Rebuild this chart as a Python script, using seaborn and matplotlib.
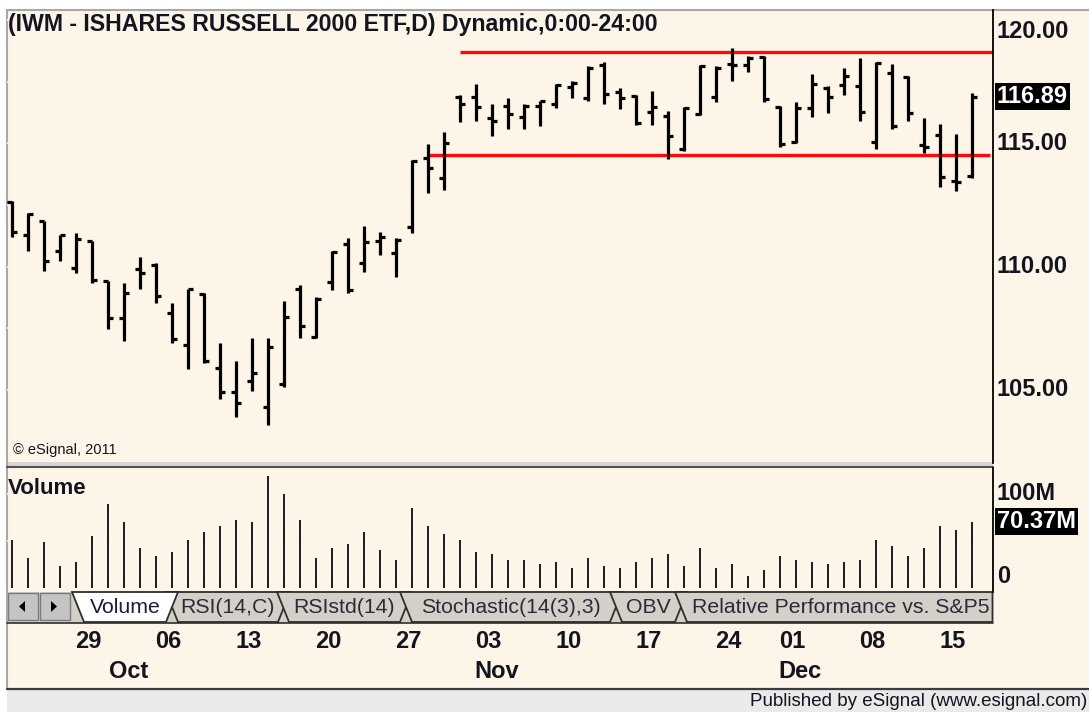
import matplotlib
matplotlib.use("Agg")
import matplotlib.pyplot as plt
import matplotlib.transforms as mtransforms
from matplotlib.patches import Rectangle, Polygon
import numpy as np
import pandas as pd
import seaborn as sns

# ---- data ----
trading_days = pd.bdate_range("2011-09-22", "2011-12-16").drop(pd.Timestamp("2011-11-24"))

opens = [112.60, 111.30, 111.83, 110.62, 109.95, 111.02, 109.40, 107.92, 109.89, 110.08,
         108.11, 106.81, 108.87, 105.90, 104.93, 105.36, 104.30, 105.25, 109.10, 107.14,
         109.39, 110.92, 110.13, 111.05, 110.54, 111.59, 114.42, 113.59, 116.88, 116.88,
         116.03, 116.50, 116.07, 116.52, 116.58, 117.27, 116.82, 118.17, 117.07, 116.92,
         116.25, 116.11, 114.77, 116.19, 116.86, 118.21, 118.17, 118.48, 116.46, 115.06,
         116.42, 117.23, 117.36, 117.33, 115.06, 117.85, 117.69, 114.93, 115.34, 113.48,
         113.66]
highs = [112.67, 112.16, 111.86, 111.30, 111.38, 111.05, 109.43, 109.35, 110.40, 110.16,
         108.54, 109.11, 108.95, 106.92, 106.19, 107.09, 107.09, 108.62, 109.27, 108.76,
         110.65, 111.16, 111.63, 111.39, 111.16, 114.32, 114.97, 115.44, 116.96, 117.40,
         116.59, 116.84, 116.59, 116.71, 117.40, 117.52, 118.12, 118.28, 117.24, 116.96,
         117.13, 116.32, 116.48, 118.18, 118.12, 118.84, 118.54, 118.52, 116.50, 116.66,
         117.81, 117.33, 118.06, 118.44, 118.30, 118.21, 117.73, 116.03, 115.78, 115.36,
         117.04]
lows = [111.21, 110.62, 109.84, 110.21, 109.73, 109.35, 107.46, 106.98, 109.08, 108.51,
        106.89, 105.84, 106.08, 104.63, 103.90, 104.95, 103.56, 105.11, 107.09, 107.09,
        109.07, 108.94, 109.80, 110.47, 109.57, 111.35, 112.97, 113.12, 115.88, 115.91,
        115.30, 115.58, 115.58, 115.71, 116.44, 116.84, 116.72, 116.59, 116.39, 115.74,
        115.74, 114.36, 114.70, 116.15, 116.66, 117.53, 117.88, 116.66, 114.84, 115.01,
        116.05, 116.22, 116.96, 115.91, 114.77, 115.58, 115.91, 114.61, 113.22, 113.08,
        113.58]
closes = [111.39, 112.12, 110.21, 111.27, 111.11, 109.46, 107.92, 108.92, 109.73, 108.82,
          107.06, 109.08, 106.17, 104.90, 104.49, 105.68, 106.74, 107.95, 107.61, 108.69,
          110.61, 109.06, 111.01, 111.19, 111.09, 114.27, 114.00, 114.99, 116.61, 116.48,
          115.91, 116.17, 116.50, 116.70, 117.36, 117.45, 118.06, 117.00, 116.82, 115.82,
          116.46, 115.30, 116.42, 118.14, 118.06, 118.18, 118.44, 116.80, 114.98, 116.42,
          117.40, 116.86, 117.73, 116.28, 118.25, 115.71, 116.22, 114.86, 113.63, 113.44,
          116.89]
volume_m = [50.8, 32.0, 49.0, 23.5, 27.7, 55.4, 89.6, 70.4, 42.6, 34.1,
            38.4, 51.2, 59.7, 66.1, 72.5, 70.4, 119.4, 100.2, 72.5, 32.0,
            42.6, 46.9, 59.7, 40.5, 29.9, 85.3, 66.1, 57.6, 51.2, 38.4,
            36.2, 29.9, 29.9, 25.6, 27.7, 21.3, 32.0, 23.5, 21.3, 27.7,
            32.0, 36.2, 23.5, 42.6, 21.3, 25.6, 12.8, 19.2, 34.1, 29.9,
            27.7, 25.6, 27.7, 29.9, 51.2, 44.8, 34.1, 42.6, 66.1, 61.8,
            70.37]

resistance, resistance_from = 118.70, "2011-11-01"
support, support_from = 114.53, "2011-10-28"

price_labels = [120, 115, 110, 105]
volume_labels = [100]
last_price = 116.89
last_volume = 70.37

day_ticks = ["2011-09-29", "2011-10-06", "2011-10-13", "2011-10-20", "2011-10-27", "2011-11-03",
             "2011-11-10", "2011-11-17", "2011-11-25", "2011-12-01", "2011-12-08", "2011-12-15"]
day_labels = ["29", "06", "13", "20", "27", "03", "10", "17", "24", "01", "08", "15"]
month_ticks = ["2011-10-03", "2011-11-03", "2011-12-01"]
month_labels = ["Oct", "Nov", "Dec"]

tab_names = ["Volume", "RSI(14,C)", "RSIstd(14)", "Stochastic(14(3),3)", "OBV",
             "Relative Performance vs. S&P500"]

title = "(IWM - ISHARES RUSSELL 2000 ETF,D) Dynamic,0:00-24:00"

# ---- style ----
CREAM = "#FCF5E8"
TAB_GRAY = "#D4D0C8"
sns.set_theme(style="white", rc={"axes.facecolor": CREAM, "figure.facecolor": CREAM})
plt.rcParams["font.family"] = ["Liberation Sans", "DejaVu Sans"]
TXT = "#141420"

W, H = 1089, 712
fig = plt.figure(figsize=(W / 100, H / 100), dpi=100)


def px_rect(x0, y0, x1, y1):
    return [x0 / W, 1 - y1 / H, (x1 - x0) / W, (y1 - y0) / H]


# overlay in pixel coordinates for the window chrome
over = fig.add_axes([0, 0, 1, 1], zorder=0)
over.set_xlim(0, W)
over.set_ylim(H, 0)
over.axis("off")

idx = np.arange(len(trading_days))
xlim = ((7 - 12.2) / 16, (993 - 12.2) / 16)

# ---- price panel ----
ax_p = fig.add_axes(px_rect(7, 10, 993, 463), zorder=2)
ax_p.set_facecolor("none")
ax_p.set_xlim(*xlim)
ax_p.set_ylim(102.04, 120.40)
for lvl in np.arange(105, 120.1, 2.5):
    ax_p.axhline(lvl, color="white", lw=1.2, ls=(0, (0.8, 10.8)), zorder=0)

ax_p.vlines(idx, lows, highs, color="black", lw=2.3, zorder=3)
ax_p.hlines(opens, idx - 0.3, idx, color="black", lw=2.3, zorder=3)
ax_p.hlines(closes, idx, idx + 0.3, color="black", lw=2.3, zorder=3)

ax_p.hlines(resistance, trading_days.get_loc(pd.Timestamp(resistance_from)), xlim[1],
            color="#FF0A0A", lw=2.4, zorder=2)
ax_p.hlines(support, trading_days.get_loc(pd.Timestamp(support_from)), xlim[1] - 0.2,
            color="#FF0A0A", lw=2.4, zorder=2)

ax_p.set_xticks([])
ax_p.set_yticks([])
for side in ["left", "top", "bottom"]:
    ax_p.spines[side].set_visible(False)
ax_p.spines["right"].set_color("black")
ax_p.spines["right"].set_linewidth(1.3)

ax_p.text(1 / 986, 1 - 15 / 453, title, transform=ax_p.transAxes, ha="left", va="center",
          fontsize=16.7, fontweight="bold", color=TXT)
ax_p.text(6 / 986, 13 / 453, "\u00a9 eSignal, 2011", transform=ax_p.transAxes, ha="left",
          va="center", fontsize=10.5, color=TXT)

# right-hand price scale; the top label is kept inside the pane
tr_price = mtransforms.blended_transform_factory(over.transData, ax_p.transData)
for lvl in price_labels:
    ax_p.text(997, lvl, f"{lvl:.2f}", transform=tr_price, ha="left",
              va="top" if lvl == max(price_labels) else "center",
              fontsize=17, fontweight="bold", color=TXT, clip_on=False)
ax_p.text(997, last_price, f"{last_price:.2f}", transform=tr_price, ha="left", va="center",
          fontsize=17, fontweight="bold", color="white", clip_on=False,
          bbox=dict(boxstyle="square,pad=0.08", fc="black", ec="none"))

# ---- volume panel ----
ax_v = fig.add_axes(px_rect(7, 468, 993, 592), zorder=2)
ax_v.set_facecolor("none")
for lvl in [50, 100]:
    ax_v.axhline(lvl, color="white", lw=1.2, ls=(0, (0.8, 10.8)), zorder=0)
sns.barplot(x=idx, y=volume_m, ax=ax_v, native_scale=True, width=0.14, color="#222222",
            linewidth=0, errorbar=None, saturation=1)
ax_v.set_xlim(*xlim)
ax_v.set_ylim(-4.6, 127.6)
ax_v.set_xticks([])
ax_v.set_yticks([])
ax_v.set_xlabel("")
ax_v.set_ylabel("")
for side in ["left", "top", "bottom"]:
    ax_v.spines[side].set_visible(False)
ax_v.spines["right"].set_color("black")
ax_v.spines["right"].set_linewidth(1.3)
ax_v.text(1 / 986, 1 - 20 / 124, "Volume", transform=ax_v.transAxes, ha="left", va="center",
          fontsize=16, fontweight="bold", color=TXT)

tr_vol = mtransforms.blended_transform_factory(over.transData, ax_v.transData)
for lvl in volume_labels:
    ax_v.text(997, lvl, f"{lvl}M", transform=tr_vol, ha="left", va="center",
              fontsize=17, fontweight="bold", color=TXT, clip_on=False)
ax_v.text(997, 0, "0", transform=tr_vol, ha="left", va="bottom",
          fontsize=17, fontweight="bold", color=TXT, clip_on=False)
ax_v.text(997, last_volume, f"{last_volume:.2f}M", transform=tr_vol, ha="left", va="center",
          fontsize=17, fontweight="bold", color="white", clip_on=False,
          bbox=dict(boxstyle="square,pad=0.08", fc="black", ec="none"))

# ---- date axis (below the tab strip) ----
tr_date = mtransforms.blended_transform_factory(ax_p.transData, over.transData)
tr_day = mtransforms.offset_copy(tr_date, fig=fig, x=-3.7, y=0, units="dots")
tr_mon = mtransforms.offset_copy(tr_date, fig=fig, x=4, y=0, units="dots")
for d, lab in zip(day_ticks, day_labels):
    over.text(trading_days.get_loc(pd.Timestamp(d)), 641, lab, transform=tr_day, ha="center",
              va="center", fontsize=17, fontweight="bold", color=TXT)
for d, lab in zip(month_ticks, month_labels):
    over.text(trading_days.get_loc(pd.Timestamp(d)), 672, lab, transform=tr_mon, ha="center",
              va="center", fontsize=17, fontweight="bold", color=TXT)

# ---- window chrome ----
over.add_patch(Rectangle((0, 0), W, 10, fc="white", ec="none"))
over.add_patch(Rectangle((0, 0), 7, H, fc="white", ec="none"))
over.add_patch(Rectangle((7, 689), W - 7, H - 689, fc="#EAEAEA", ec="none"))
over.plot([7, W], [10, 10], color="#A8A8A8", lw=1.5)
over.plot([7, 7], [10, 689], color="#A8A8A8", lw=1.5)
over.plot([7, W], [688.5, 688.5], color="#3C3C3C", lw=1.6)
over.add_patch(Rectangle((7, 462), 986, 4, fc="#D6D6D6", ec="none"))
over.plot([7, 993], [466.5, 466.5], color="#505050", lw=1.5)
over.text(W - 2, 701, "Published by eSignal (www.esignal.com)", ha="right", va="center",
          fontsize=13.5, color=TXT)

# tab strip
over.add_patch(Rectangle((7, 592), 986, 31, fc=TAB_GRAY, ec="none"))
over.add_patch(Rectangle((8, 593), 30, 27, fc="#C4C4C4", ec="#7A7A7A", lw=1))
over.add_patch(Rectangle((40, 593), 30, 27, fc="#C4C4C4", ec="#7A7A7A", lw=1))
over.add_patch(Polygon([(19, 606.5), (25, 601), (25, 612)], fc="black", ec="none"))
over.add_patch(Polygon([(57, 606.5), (51, 601), (51, 612)], fc="black", ec="none"))

tab_edges = [(72, 178), (166, 290), (277, 412), (400, 622), (610, 687), (675, 1010)]
slant = 12
order = list(range(1, len(tab_names))) + [0]
for k in order:
    lt, rt = tab_edges[k]
    active = k == 0
    z = 3 + (10 if active else k)
    if k == len(tab_names) - 1:
        pts = [(lt, 592), (lt + slant, 622), (992.5, 622), (992.5, 592)]
    else:
        pts = [(lt, 592), (lt + slant, 622), (rt - slant, 622), (rt, 592)]
    over.add_patch(Polygon(pts, closed=True, fc="white" if active else TAB_GRAY,
                           ec="#2E2E2E", lw=1.3, zorder=z))
    if k == len(tab_names) - 1:
        t = over.text(lt + 17, 607.5, tab_names[k], ha="left", va="center", fontsize=15.3,
                      color="#2A2A3A", zorder=z)
        clip = Rectangle((lt, 590), 990 - lt, 35, transform=over.transData,
                         fc="none", ec="none")
        t.set_clip_path(clip)
        t.set_clip_on(True)
    else:
        over.text((lt + rt) / 2, 607.5, tab_names[k], ha="center", va="center",
                  fontsize=15.3, color="#1C1C40" if active else "#2A2A3A", zorder=z)
over.plot([7, 993], [622.5, 622.5], color="#2E2E2E", lw=1.2, zorder=2)

fig.savefig("out.png", dpi=100, facecolor=CREAM)
